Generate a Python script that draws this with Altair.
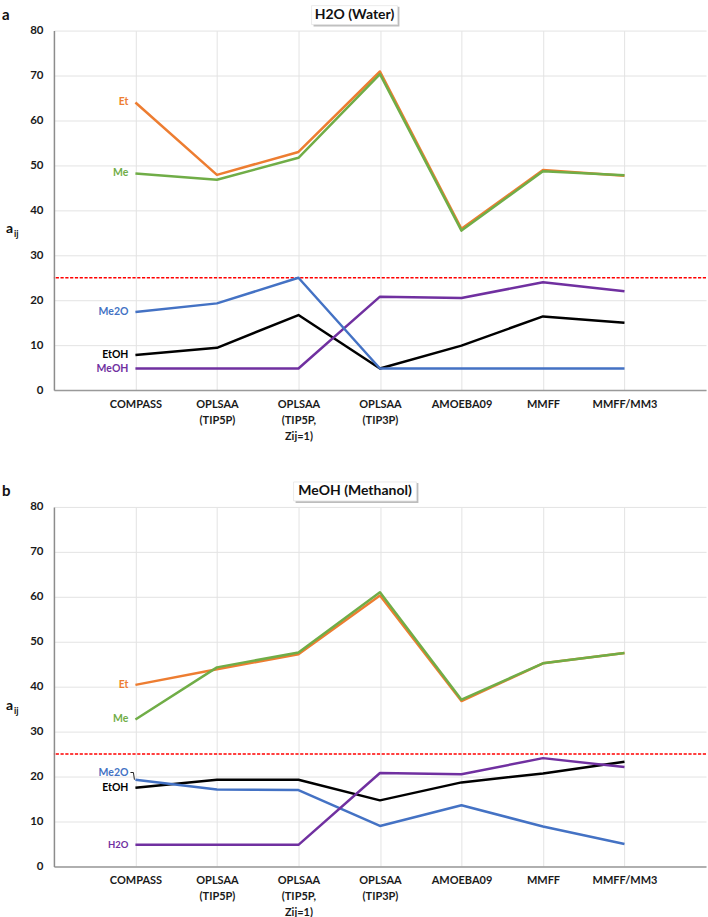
import altair as alt
import pandas as pd

# Force-field models on the x axis ("\n" breaks a label over several lines)
categories = [
    "COMPASS",
    "OPLSAA\n(TIP5P)",
    "OPLSAA\n(TIP5P,\nZij=1)",
    "OPLSAA\n(TIP3P)",
    "AMOEBA09",
    "MMFF",
    "MMFF/MM3",
]

# Panel a: H2O (Water)
water_et = [64.0, 47.9, 53.0, 70.9, 35.9, 49.0, 47.7]
water_me = [48.2, 46.8, 51.7, 70.3, 35.5, 48.7, 47.8]
water_etoh = [7.8, 9.4, 16.7, 4.8, 9.9, 16.4, 15.0]
water_meoh = [4.8, 4.8, 4.8, 20.8, 20.5, 24.0, 22.0]
water_me2o = [17.4, 19.3, 25.0, 4.8, 4.8, 4.8, 4.8]

# Panel b: MeOH (Methanol)
meoh_et = [40.4, 43.9, 47.2, 60.3, 36.8, 45.2, 47.5]
meoh_me = [32.7, 44.3, 47.6, 61.0, 37.1, 45.2, 47.5]
meoh_etoh = [17.5, 19.3, 19.3, 14.7, 18.7, 20.7, 23.3]
meoh_me2o = [19.3, 17.1, 17.0, 9.0, 13.6, 8.9, 5.0]
meoh_h2o = [4.8, 4.8, 4.8, 20.8, 20.5, 24.1, 22.1]

threshold = 25

ORANGE = "#ED7D31"
GREEN = "#70AD47"
BLUE = "#4472C4"
PURPLE = "#7030A0"
BLACK = "#000000"

FONT = "Lato"
W, H = 653, 360

x_enc = alt.X(
    "model:N",
    sort=categories,
    scale=alt.Scale(type="point", domain=categories, padding=1),
    axis=alt.Axis(
        title=None,
        grid=True,
        gridColor="#E3E3E3",
        gridWidth=1,
        ticks=False,
        domainColor="#9A9A9A",
        domainWidth=1.5,
        labelAngle=0,
        labelFont=FONT,
        labelFontSize=11,
        labelFontWeight="bold",
        labelColor="#1A1A1A",
        labelPadding=8,
        labelLineHeight=16,
        labelExpr="split(datum.label, '\\n')",
    ),
)

y_enc = alt.Y(
    "value:Q",
    scale=alt.Scale(domain=[0, 80], nice=False),
    axis=alt.Axis(
        title=None,
        values=list(range(0, 81, 10)),
        grid=True,
        gridColor="#E3E3E3",
        gridWidth=1,
        ticks=False,
        domainColor="#8C8C8C",
        domainWidth=1.5,
        labelFont=FONT,
        labelFontSize=11.5,
        labelFontWeight="bold",
        labelColor="#1A1A1A",
        labelPadding=11,
    ),
)


def series_layer(values, color):
    df = pd.DataFrame({"model": categories, "value": values, "idx": range(len(values))})
    return alt.Chart(df).mark_line(color=color, strokeWidth=2.5, strokeJoin="round").encode(
        x=x_enc, y=y_enc, order="idx:Q"
    )


def panel(title, letter, series, labels, box, leader=None):
    layers = []
    # dashed reference level
    layers.append(
        alt.Chart(pd.DataFrame({"value": [threshold]}))
        .mark_rule(color="#FF0000", strokeWidth=1.5, strokeDash=[3.2, 1.6])
        .encode(y=y_enc)
    )
    for values, color in series:
        layers.append(series_layer(values, color))

    # series names next to the first model
    lab = pd.DataFrame(labels, columns=["model", "value", "text", "color", "size"])
    for size, grp in lab.groupby("size"):
        layers.append(
            alt.Chart(grp)
            .mark_text(align="right", baseline="middle", dx=-7, font=FONT, fontWeight="bold", fontSize=size)
            .encode(x=x_enc, y=y_enc, text="text:N", color=alt.Color("color:N", scale=None))
        )

    if leader is not None:
        layers.append(
            alt.Chart(pd.DataFrame(leader, columns=["model", "value", "off", "idx"]))
            .mark_line(color="#222222", strokeWidth=1)
            .encode(
                x=x_enc,
                y=y_enc,
                xOffset=alt.XOffset("off:Q", scale=None),
                order="idx:Q",
            )
        )

    one = pd.DataFrame({"t": [title]})
    bx0, bx1 = box
    # title box with drop shadow
    layers.append(
        alt.Chart(one).mark_rect(color="#BDBDBD").encode(
            x=alt.value(bx0 + 2), x2=alt.value(bx1 + 2), y=alt.value(-24), y2=alt.value(-4)
        )
    )
    layers.append(
        alt.Chart(one).mark_rect(color="white", stroke="#E6E6E6", strokeWidth=0.8).encode(
            x=alt.value(bx0), x2=alt.value(bx1), y=alt.value(-25), y2=alt.value(-6)
        )
    )
    layers.append(
        alt.Chart(one)
        .mark_text(font=FONT, fontSize=14, fontWeight="bold", color="#111111", baseline="middle")
        .encode(x=alt.value((bx0 + bx1) / 2), y=alt.value(-15.5), text="t:N")
    )
    # panel letter
    layers.append(
        alt.Chart(pd.DataFrame({"t": [letter]}))
        .mark_text(font=FONT, fontSize=15, fontWeight="bold", color="#111111", align="left", baseline="middle")
        .encode(x=alt.value(-52), y=alt.value(-16), text="t:N")
    )
    # y-axis title a_ij
    layers.append(
        alt.Chart(pd.DataFrame({"t": ["a"]}))
        .mark_text(font=FONT, fontSize=14, fontWeight="bold", color="#111111", align="left", baseline="alphabetic")
        .encode(x=alt.value(-48), y=alt.value(203), text="t:N")
    )
    layers.append(
        alt.Chart(pd.DataFrame({"t": ["ij"]}))
        .mark_text(font=FONT, fontSize=9, fontWeight="bold", color="#111111", align="left", baseline="alphabetic")
        .encode(x=alt.value(-40), y=alt.value(207), text="t:N")
    )
    return alt.layer(*layers).properties(width=W, height=H)


top = panel(
    "H2O (Water)",
    "a",
    [
        (water_et, ORANGE),
        (water_me, GREEN),
        (water_etoh, BLACK),
        (water_meoh, PURPLE),
        (water_me2o, BLUE),
    ],
    [
        ("COMPASS", water_et[0], "Et", ORANGE, 10.5),
        ("COMPASS", water_me[0], "Me", GREEN, 10.5),
        ("COMPASS", water_me2o[0], "Me2O", BLUE, 10.5),
        ("COMPASS", water_etoh[0], "EtOH", BLACK, 10.5),
        ("COMPASS", water_meoh[0], "MeOH", PURPLE, 10.5),
    ],
    (258, 344),
)

bottom = panel(
    "MeOH (Methanol)",
    "b",
    [
        (meoh_et, ORANGE),
        (meoh_me, GREEN),
        (meoh_etoh, BLACK),
        (meoh_me2o, BLUE),
        (meoh_h2o, PURPLE),
    ],
    [
        ("COMPASS", meoh_et[0], "Et", ORANGE, 10.5),
        ("COMPASS", meoh_me[0], "Me", GREEN, 10.5),
        ("COMPASS", 20.9, "Me2O", BLUE, 10.5),
        ("COMPASS", meoh_etoh[0], "EtOH", BLACK, 10.5),
        ("COMPASS", meoh_h2o[0], "H2O", PURPLE, 9.5),
    ],
    (240, 363),
    leader=[
        ("COMPASS", 20.9, -5, 0),
        ("COMPASS", 20.9, -2, 1),
        ("COMPASS", meoh_me2o[0], -1, 2),
    ],
)

chart = (
    alt.vconcat(top, bottom, spacing=117, bounds="flush")
    .properties(padding={"left": 2, "top": 4, "right": 1, "bottom": 0}, background="white")
    .configure_view(stroke=None)
)

chart.save("out.html", embed_options={"renderer": "svg", "actions": False})
